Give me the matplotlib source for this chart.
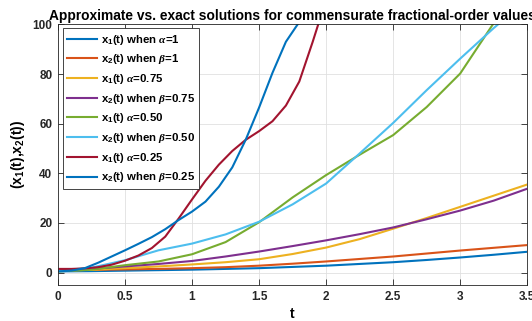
import numpy as np
import matplotlib
matplotlib.use('Agg')
import matplotlib.pyplot as plt

# plotting parameters (bold Helvetica-like text, italic Greek letters)
params = {'font.family': 'Liberation Sans',
          'font.weight': 'bold',
          'mathtext.fontset': 'custom',
          'mathtext.rm': 'Liberation Sans:bold',
          'mathtext.bf': 'Liberation Sans:bold',
          'mathtext.it': 'Liberation Serif:italic',
          'axes.linewidth': 0.6,
          'axes.edgecolor': '#262626',
          'xtick.color': '#262626',
          'ytick.color': '#262626'}
plt.rcParams.update(params)

# time grids
t_fine = [0.0, 0.1, 0.2, 0.3, 0.4, 0.5, 0.6, 0.7, 0.8, 0.9, 1.0,
          1.1, 1.2, 1.3, 1.4, 1.5, 1.6, 1.7, 1.8, 1.9, 2.0]
t_coarse = [0.0, 0.25, 0.5, 0.75, 1.0, 1.25, 1.5, 1.75, 2.0,
            2.25, 2.5, 2.75, 3.0, 3.25, 3.5]

# solutions on the coarse grid
x1_a100 = [0.5, 0.6, 0.8, 1.0, 1.2, 1.5, 1.8, 2.3, 2.8, 3.5, 4.2, 5.1, 6.1, 7.2, 8.4]
x2_b100 = [1.0, 1.1, 1.3, 1.5, 1.8, 2.2, 2.8, 3.6, 4.5, 5.5, 6.5, 7.7, 8.9, 10.0, 11.1]
x1_a075 = [0.8, 1.1, 1.8, 2.5, 3.3, 4.2, 5.4, 7.5, 10.1, 13.5, 17.7, 22.0, 26.5, 31.0, 35.5]
x2_b075 = [1.0, 1.5, 2.5, 3.5, 4.7, 6.5, 8.5, 10.7, 13.0, 15.5, 18.2, 21.5, 25.0, 29.0, 33.8]
x1_a050 = [0.5, 1.2, 3.0, 4.5, 7.4, 12.3, 20.3, 30.3, 39.3, 47.5, 55.4, 66.7, 80.2, 100.5, 125.0]
x2_b050 = [0.8, 2.0, 5.0, 9.0, 11.7, 15.4, 20.5, 27.5, 35.9, 48.0, 60.3, 73.5, 86.2, 98.5, 110.0]

# fast growing solutions on the fine grid
x1_a025 = [1.5, 1.5, 1.7, 2.2, 3.2, 4.8, 6.9, 9.9, 14.5, 21.8, 29.5,
           37.0, 43.5, 49.0, 53.5, 57.0, 61.0, 67.3, 77.0, 93.0, 110.0]
x2_b025 = [0.5, 0.8, 1.8, 4.0, 6.5, 9.0, 11.6, 14.3, 17.5, 21.2, 24.6,
           28.6, 34.6, 42.4, 53.5, 66.5, 80.5, 93.0, 101.0]

labels = [r'x$_1$(t) when $\alpha$=1',
          r'x$_2$(t) when $\beta$=1',
          r'x$_1$(t) $\alpha$=0.75',
          r'x$_2$(t) when $\beta$=0.75',
          r'x$_1$(t) $\alpha$=0.50',
          r'x$_2$(t) when $\beta$=0.50',
          r'x$_1$(t) $\alpha$=0.25',
          r'x$_2$(t) when $\beta$=0.25']

colors = ['#0072BD', '#D95319', '#EDB120', '#7E2F8E',
          '#77AC30', '#4DBEEE', '#A2142F', '#0072BD']

fig = plt.figure(figsize=(5.32, 3.21), dpi=100)
ax = fig.add_axes([0.109, 0.112, 0.882, 0.812])

series = [(t_coarse, x1_a100), (t_coarse, x2_b100), (t_coarse, x1_a075),
          (t_coarse, x2_b075), (t_coarse, x1_a050), (t_coarse, x2_b050),
          (t_fine, x1_a025), (t_fine[:len(x2_b025)], x2_b025)]

for (t, x), lab, col in zip(series, labels, colors):
    ax.plot(t, x, color=col, lw=1.5, label=lab)

ax.set_xlim(0, 3.5)
ax.set_ylim(-5, 100)
ax.set_xticks(np.arange(0, 3.51, 0.5))
ax.set_xticklabels(['0', '0.5', '1', '1.5', '2', '2.5', '3', '3.5'])
ax.set_yticks([0, 20, 40, 60, 80, 100])
ax.grid(True, color='#e0e0e0', lw=0.6)
ax.set_axisbelow(True)
ax.tick_params(direction='in', top=True, right=True, length=4, width=0.6,
               labelsize=8.5, pad=4)
for lab in ax.get_xticklabels() + ax.get_yticklabels():
    lab.set_fontweight('bold')

ax.set_xlabel('t', fontsize=10, fontweight='bold', labelpad=3.5)
ax.set_ylabel(r'(x$_1$(t),x$_2$(t))', fontsize=10, fontweight='bold', labelpad=4)
ax.set_title('Approximate vs. exact solutions for commensurate fractional-order values',
             fontsize=9.9, fontweight='bold', pad=3)

leg = ax.legend(loc='upper left', bbox_to_anchor=(0.011, 0.985), borderaxespad=0,
                fontsize=8.2, handlelength=2.6, handletextpad=0.3,
                labelspacing=0.5, fancybox=False, framealpha=1,
                edgecolor='#262626', borderpad=0.38)
leg.get_frame().set_linewidth(0.6)

fig.savefig('out.png', dpi=100)
